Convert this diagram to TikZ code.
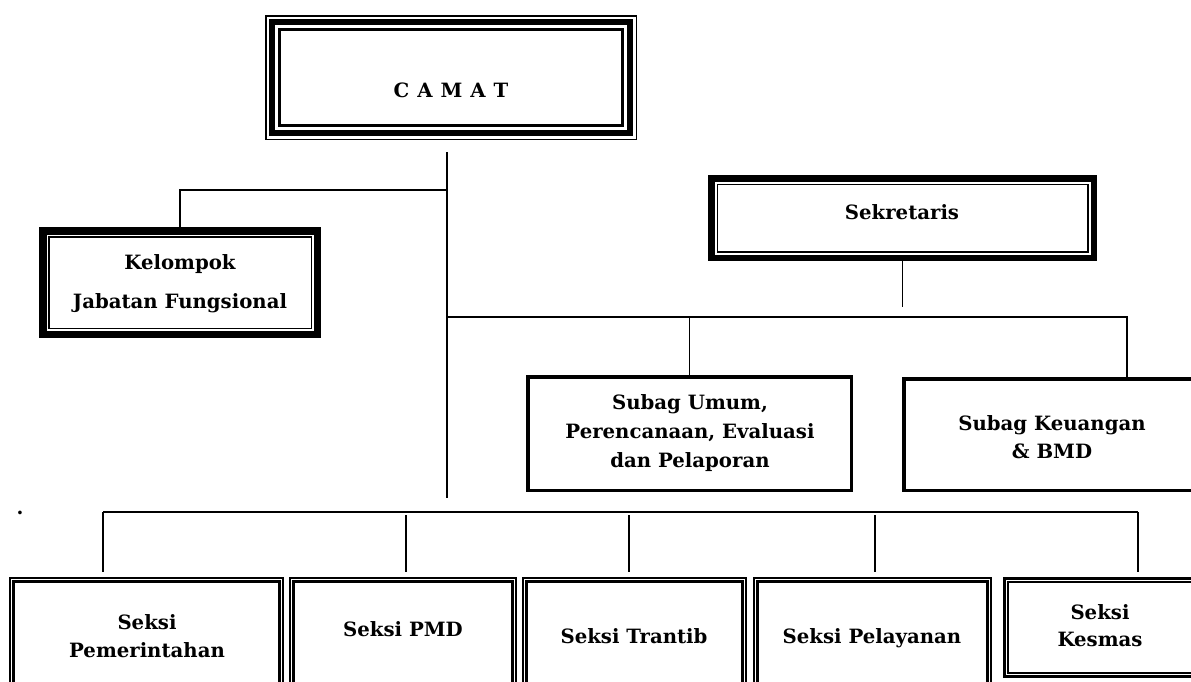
\documentclass[tikz,border=0pt]{standalone}
\usepackage{fontspec}
\setmainfont{DejaVu Serif}
% frame lines of a box: list of offset/width, offset from the outer edge
\newcommand{\frameit}[2]{%
	\foreach \d/\w in {#2}
	{
		\draw[line width=\w pt] ([shift={(\d,\d)}]#1.north west) rectangle ([shift={(-\d,-\d)}]#1.south east);
	}
}
\begin{document}
\begin{tikzpicture}[x=1pt, y=-1pt,
		box/.style={rectangle, inner sep=0pt, outer sep=0pt},
		txt/.style={font=\bfseries\fontsize{19.7}{28}\selectfont, align=center, inner sep=0pt},
		link/.style={line width=1.5pt}]
	\useasboundingbox (0,0) rectangle (1191,681);
	\clip (0,0) rectangle (1191,681);
	% draw boxes: name/left/top/right/bottom
	\foreach \name/\l/\t/\r/\b in {camat/265/15/637/140, kelompok/39/227/321/338, sek/708/175/1097/261,
		umum/526/375/853/492, keu/902/377/1352/492, pem/9/577/284/700, pmd/289/577/517/700,
		trantib/522/577/747/700, pelayanan/753/577/992/700, kesmas/1003/577/1240/678}
	{
		\node[box, minimum width={(\r-\l)*1pt}, minimum height={(\b-\t)*1pt}] (\name) at ({(\l+\r)/2},{(\t+\b)/2}) {};
	}
	\frameit{camat}{0.75/1.5, 7.15/5.7, 14.5/2.2}
	\frameit{kelompok}{3.75/7.5, 9.75/1.5}
	\frameit{sek}{3.25/6.5, 9.4/1.8}
	\frameit{umum}{1.75/3.5}
	\frameit{keu}{1.75/3.5}
	\foreach \n in {pem,pmd,trantib,pelayanan}
	{
		\frameit{\n}{0.8/1.6, 4.7/3}
	}
	\frameit{kesmas}{1.35/2.7, 5.1/1.3}
	% labels
	\node[txt] (tcamat) at (451,90) {C\hspace{8pt}A\hspace{8pt}M\hspace{8pt}A\hspace{8pt}T};
	\node[txt] (tkelompok) at (180,284) {Kelompok\\[11pt]Jabatan Fungsional};
	\node[txt] (tsek) at (902,212) {Sekretaris};
	\node[txt, font=\bfseries\fontsize{19.7}{29}\selectfont] (tumum) at (690,433) {Subag Umum,\\Perencanaan, Evaluasi\\dan Pelaporan};
	\node[txt] (tkeu) at (1052,437) {Subag Keuangan\\\& BMD};
	\node[txt] (tpem) at (147,636) {Seksi\\Pemerintahan};
	\node[txt] (tpmd) at (403,629) {Seksi PMD};
	\node[txt] (ttrantib) at (634,636) {Seksi Trantib};
	\node[txt] (tpelayanan) at (872,638) {Seksi Pelayanan};
	\node[txt, font=\bfseries\fontsize{19.7}{27}\selectfont] (tkesmas) at (1100,626) {Seksi\\Kesmas};
	\node[txt] (tdot) at (20,513) {.};
	% upper edges
	\coordinate (trunktop) at (447,152);
	\coordinate (trunkbot) at (447,498);
	\coordinate (kb) at (447,190);
	\coordinate (sb) at (447,317);
	\draw[link] (trunktop) -- (trunkbot);
	\draw[link] (kelompok.north) |- (kb);
	\draw[link] (sb) -| (keu.north);
	\draw[link] (umum.north) -- (umum.north |- sb);
	\draw[link, shorten >=10pt] (sek.south) -- (sek.south |- sb);
	% lower edges
	\foreach \n/\x in {pem/103, pmd/406, trantib/629, pelayanan/875, kesmas/1138}
	{
		\coordinate (b\n) at (\x,512);
	}
	\draw[link] (bpem) -- (bkesmas);
	\draw[link, shorten >=5pt] (bpem) -- (bpem |- pem.north);
	\draw[link, shorten >=5pt] (bkesmas) -- (bkesmas |- kesmas.north);
	\foreach \n in {pmd,trantib,pelayanan}
	{
		\draw[link, shorten <=3pt, shorten >=5pt] (b\n) -- (b\n |- \n.north);
	}
\end{tikzpicture}
\end{document}
